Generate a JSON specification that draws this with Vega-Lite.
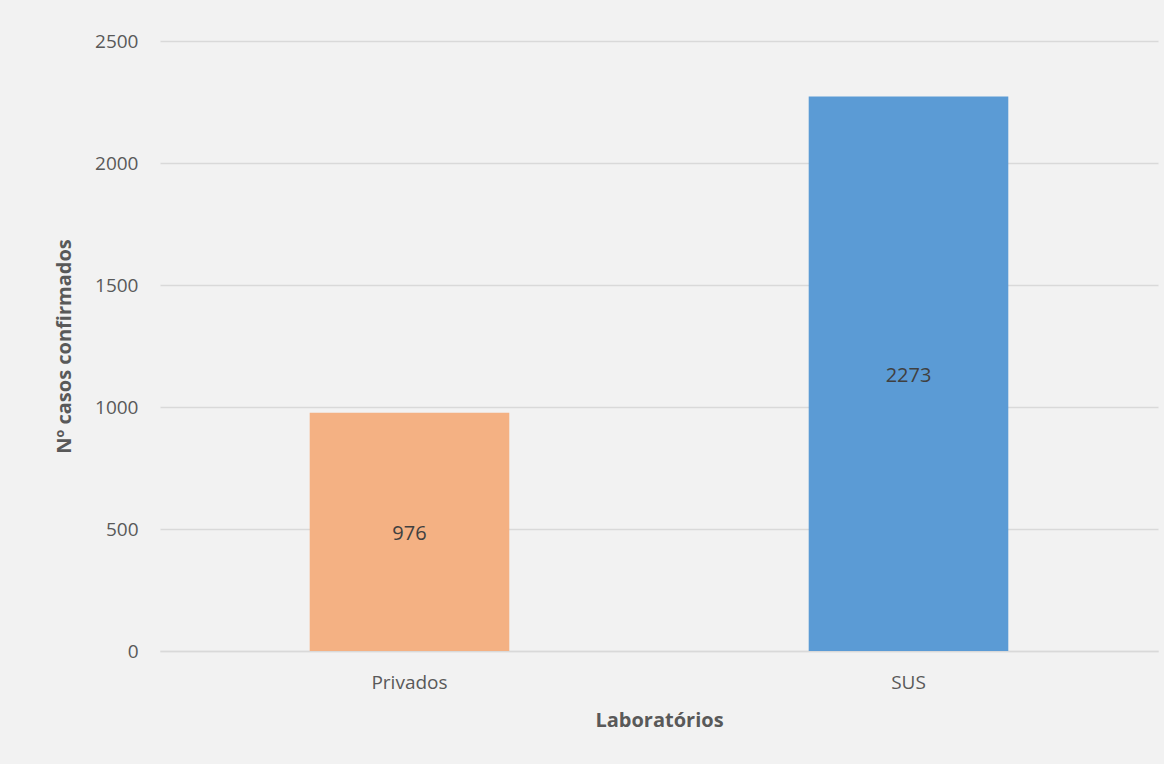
{
  "$schema": "https://vega.github.io/schema/vega-lite/v6.json",
  "autosize": {"type": "none"},
  "width": 998,
  "height": 610,
  "padding": {"left": 160, "top": 41, "right": 6, "bottom": 113},
  "background": "#f2f2f2",
  "data": {"values": [
    {"lab": "Privados", "casos": 976},
    {"lab": "SUS", "casos": 2273}
  ]},
  "encoding": {
    "x": {"field": "lab", "type": "nominal", "sort": null,
      "scale": {"paddingInner": 0.6, "paddingOuter": 0.3},
      "axis": {"title": "Laboratórios", "labelAngle": 0, "ticks": false, "domainColor": "#d9d9d9", "domainWidth": 1.5, "labelPadding": 22, "titlePadding": 18}}
  },
  "layer": [
    {"mark": {"type": "bar"},
      "encoding": {
        "y": {"field": "casos", "type": "quantitative",
          "scale": {"domain": [0, 2500]},
          "axis": {"title": "Nº casos confirmados", "format": "d", "values": [0, 500, 1000, 1500, 2000, 2500], "ticks": false, "domain": false, "labelPadding": 22, "titlePadding": 20, "gridColor": "#d9d9d9", "gridWidth": 1.5}},
        "color": {"field": "lab", "type": "nominal", "legend": null,
        "scale": {"domain": ["Privados", "SUS"], "range": ["#F4B183", "#5B9BD5"]}}}},
    {"mark": {"type": "text", "fontSize": 20, "font": "Open Sans", "color": "#404040", "baseline": "middle", "dy": 2},
      "encoding": {
        "y": {"field": "casos", "type": "quantitative", "scale": {"domain": [0, 5000]}, "axis": null},
        "text": {"field": "casos", "type": "quantitative", "format": "d"}}}
  ],
  "resolve": {"scale": {"y": "independent"}},
  "config": {
    "view": {"stroke": null},
    "axis": {"labelFont": "Open Sans", "labelFontSize": 19, "labelColor": "#595959", "titleFont": "Open Sans", "titleFontSize": 20, "titleColor": "#595959", "titleFontWeight": "bold"}
  }
}
